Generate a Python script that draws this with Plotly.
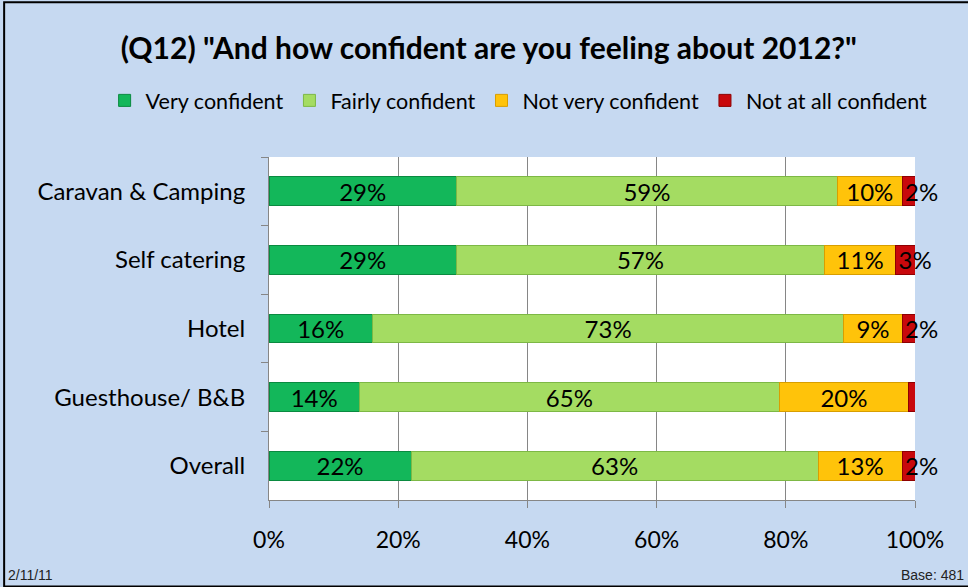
import plotly.graph_objects as go

categories = ["Caravan & Camping", "Self catering", "Hotel", "Guesthouse/ B&B", "Overall"]
very_confident = [29, 29, 16, 14, 22]
fairly_confident = [59, 57, 73, 65, 63]
not_very_confident = [10, 11, 9, 20, 13]
not_at_all_confident = [2, 3, 2, 1, 2]
# the 1% segment carries no label in the original
not_at_all_labels = ["2%", "3%", "2%", "", "2%"]

tick_vals = [0, 20, 40, 60, 80, 100]
tick_text = ["0%", "20%", "40%", "60%", "80%", "100%"]

font = "Lato, Carlito, Calibri, sans-serif"

series = [
    ("Very confident", very_confident, "#13B75A", "#0A8A40", None, "middle"),
    ("Fairly confident", fairly_confident, "#A4DC62", "#7DB845", None, "middle"),
    ("Not very confident", not_very_confident, "#FFC30A", "#D89E00", None, "middle"),
    ("Not at all confident", not_at_all_confident, "#C8080C", "#8E0000", not_at_all_labels, "start"),
]

fig = go.Figure()
for name, vals, color, edge, labels, anchor in series:
    fig.add_trace(go.Bar(
        y=categories,
        x=vals,
        name=name,
        orientation="h",
        marker=dict(color=color, line=dict(color=edge, width=1)),
        text=labels if labels is not None else [f"{v}%" for v in vals],
        textposition="inside",
        insidetextanchor=anchor,
        constraintext="none",
        textangle=0,
        cliponaxis=False,
        textfont=dict(family=font, size=24, color="black"),
        hoverinfo="skip",
    ))

fig.update_layout(
    barmode="stack",
    bargap=0.58,
    width=968,
    height=587,
    margin=dict(l=269, r=53, t=157, b=87),
    paper_bgcolor="#C6D9F1",
    plot_bgcolor="white",
    font=dict(family=font, size=20, color="black"),
    title=dict(
        text='<b>(Q12) "And how confident are you feeling about 2012?"</b>',
        x=0.505, xref="container", xanchor="center",
        y=0.917, yanchor="middle",
        font=dict(family=font, size=30, color="black"),
    ),
    legend=dict(
        orientation="h",
        x=-0.256, xref="paper", xanchor="left",
        y=1.165, yref="paper", yanchor="middle",
        font=dict(family=font, size=21.5),
        traceorder="normal",
        itemwidth=32,
        bgcolor="rgba(0,0,0,0)",
    ),
    showlegend=True,
)

fig.update_xaxes(
    range=[0, 100],
    tickvals=tick_vals,
    ticktext=tick_text,
    showgrid=True,
    gridcolor="#868686",
    gridwidth=1,
    showline=True,
    linecolor="#868686",
    ticks="outside",
    ticklen=7,
    tickcolor="#868686",
    ticklabelstandoff=12,
    zeroline=False,
    tickfont=dict(family=font, size=23),
)

fig.update_yaxes(
    autorange="reversed",
    showline=True,
    linecolor="#868686",
    ticks="outside",
    tickson="boundaries",
    ticklen=7,
    tickcolor="#868686",
    ticklabelstandoff=18,
    showgrid=False,
    tickfont=dict(family=font, size=24),
)

# slide frame and footer
fig.add_shape(type="rect", xref="paper", yref="paper",
              x0=-0.410, x1=1.4, y0=-0.252, y1=1.451,
              line=dict(color="black", width=2), layer="below")
fig.add_annotation(text="2/11/11", xref="paper", yref="paper",
                   x=-0.407, y=-0.249, xanchor="left", yanchor="bottom",
                   showarrow=False, font=dict(family="Liberation Sans Narrow, Arial", size=14, color="#222222"))
fig.add_annotation(text="Base: 481", xref="paper", yref="paper",
                   x=1.079, y=-0.249, xanchor="right", yanchor="bottom",
                   showarrow=False, font=dict(family="Liberation Sans Narrow, Arial", size=14, color="#222222"))

fig.write_html("out.html", config={"displayModeBar": False},
               post_script="document.body.style.margin='0';")
